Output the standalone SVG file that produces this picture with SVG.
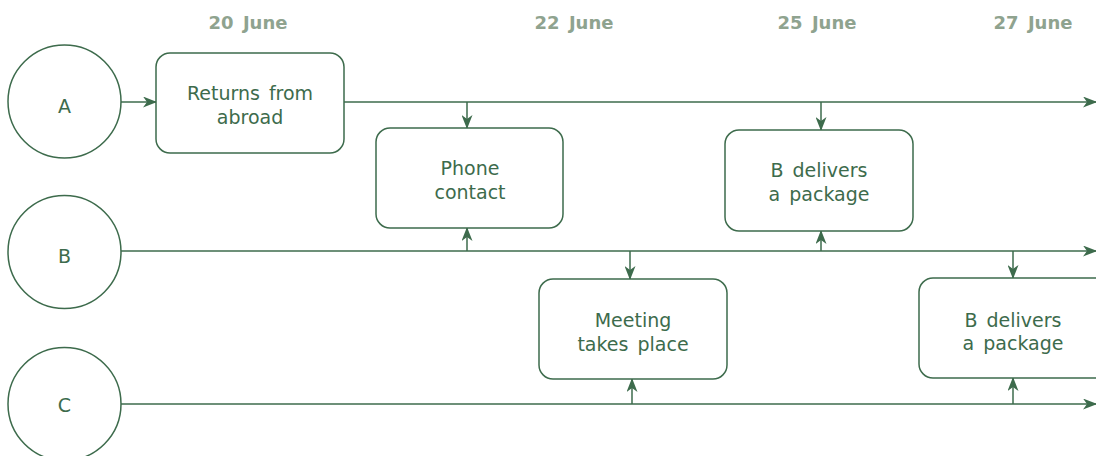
<svg xmlns="http://www.w3.org/2000/svg" width="1096" height="456" viewBox="0 0 1096 456">
<style>
.n{fill:#fff;stroke:#3d6b4c;stroke-width:1.5}
.t{font-family:"DejaVu Sans",sans-serif;font-size:19px;fill:#3d6b4c;text-anchor:middle;word-spacing:3px}
.d{font-family:"DejaVu Sans",sans-serif;font-size:18px;font-weight:bold;fill:#8fa38f;text-anchor:middle;word-spacing:3px}
.c{stroke:#3d6b4c;stroke-width:1.5;fill:none}
</style>
<defs>
<marker id="ar" viewBox="0 0 14 11" refX="13" refY="5.5" markerWidth="14" markerHeight="11" markerUnits="userSpaceOnUse" orient="auto">
<path d="M0,0 L14,5.5 L0,11 L4,5.5 Z" fill="#3d6b4c"/>
</marker>
</defs>
<rect width="1096" height="456" fill="#fff"/>
<g id="dates">
<text class="d" x="248" y="29">20 June</text>
<text class="d" x="574" y="29">22 June</text>
<text class="d" x="817" y="29">25 June</text>
<text class="d" x="1033" y="29">27 June</text>
</g>
<g id="connectors">
<line class="c" x1="121" y1="102" x2="156" y2="102" marker-end="url(#ar)"/>
<line class="c" x1="344" y1="102" x2="1096" y2="102" marker-end="url(#ar)"/>
<line class="c" x1="121" y1="251" x2="1096" y2="251" marker-end="url(#ar)"/>
<line class="c" x1="121" y1="404" x2="1096" y2="404" marker-end="url(#ar)"/>
<line class="c" x1="467" y1="102" x2="467" y2="128" marker-end="url(#ar)"/>
<line class="c" x1="467" y1="251" x2="467" y2="228" marker-end="url(#ar)"/>
<line class="c" x1="821" y1="102" x2="821" y2="130" marker-end="url(#ar)"/>
<line class="c" x1="821" y1="251" x2="821" y2="231" marker-end="url(#ar)"/>
<line class="c" x1="630" y1="251" x2="630" y2="279" marker-end="url(#ar)"/>
<line class="c" x1="632" y1="404" x2="632" y2="379" marker-end="url(#ar)"/>
<line class="c" x1="1013" y1="251" x2="1013" y2="278" marker-end="url(#ar)"/>
<line class="c" x1="1013" y1="404" x2="1013" y2="378" marker-end="url(#ar)"/>
</g>
<g id="A"><circle class="n" cx="64.5" cy="101.5" r="56.5"/><text class="t" x="64.5" y="113">A</text></g>
<g id="B"><circle class="n" cx="64.5" cy="252" r="56.5"/><text class="t" x="64.5" y="263">B</text></g>
<g id="C"><circle class="n" cx="64.5" cy="404" r="56.5"/><text class="t" x="64.5" y="412">C</text></g>
<g id="returns"><rect class="n" x="156" y="53" width="188" height="100" rx="14"/><text class="t" x="250" y="100">Returns from</text><text class="t" x="250" y="124">abroad</text></g>
<g id="phone"><rect class="n" x="376" y="128" width="187" height="100" rx="14"/><text class="t" x="470" y="175">Phone</text><text class="t" x="470" y="199">contact</text></g>
<g id="deliver1"><rect class="n" x="725" y="130" width="188" height="101" rx="14"/><text class="t" x="819" y="177">B delivers</text><text class="t" x="819" y="201">a package</text></g>
<g id="meeting"><rect class="n" x="539" y="279" width="188" height="100" rx="14"/><text class="t" x="633" y="327">Meeting</text><text class="t" x="633" y="351">takes place</text></g>
<g id="deliver2"><rect class="n" x="919" y="278" width="190" height="100" rx="14"/><text class="t" x="1013" y="327">B delivers</text><text class="t" x="1013" y="350">a package</text></g>
</svg>
